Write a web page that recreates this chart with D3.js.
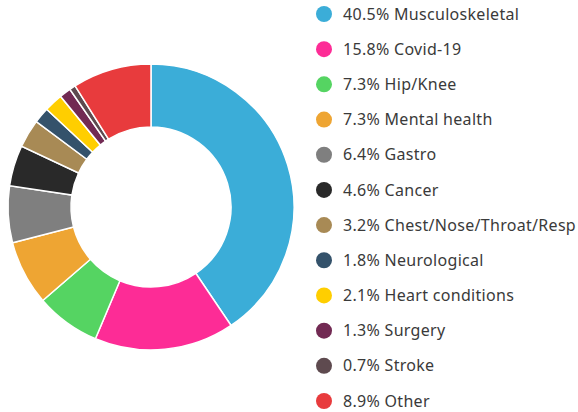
<!DOCTYPE html>
<html>
<head>
<meta charset="utf-8">
<script src="https://d3js.org/d3.v7.min.js"></script>
<style>
  body { margin: 0; background: #fff; }
  text { font-family: "Noto Sans", sans-serif; }
</style>
</head>
<body>
<div id="chart"></div>
<script>
const categories = ["Musculoskeletal", "Covid-19", "Hip/Knee", "Mental health", "Gastro", "Cancer",
  "Chest/Nose/Throat/Resp", "Neurological", "Heart conditions", "Surgery", "Stroke", "Other"];
const values = [40.5, 15.8, 7.3, 7.3, 6.4, 4.6, 3.2, 1.8, 2.1, 1.3, 0.7, 8.9];
const colors = ["#3badd8", "#fd2c96", "#55d462", "#eea533", "#7f7f7f", "#292929",
  "#a88a55", "#34526b", "#ffce00", "#722a53", "#5e4a4f", "#e83b3d"];

const width = 578, height = 412;

const svg = d3.select("#chart")
  .append("svg")
  .attr("width", width)
  .attr("height", height);

// donut
const pie = d3.pie().sort(null).value(d => d);
const arc = d3.arc().innerRadius(80).outerRadius(143);

const g = svg.append("g").attr("transform", "translate(151,207)");
g.selectAll("path")
  .data(pie(values))
  .join("path")
  .attr("d", arc)
  .attr("fill", (_, i) => colors[i])
  .attr("stroke", "#fff")
  .attr("stroke-width", 1.5);

// legend
const yScale = d3.scalePoint()
  .domain(categories)
  .range([14, 401]);

const legend = svg.append("g");
const item = legend.selectAll("g")
  .data(categories)
  .join("g")
  .attr("transform", d => `translate(324,${yScale(d)})`);

item.append("circle")
  .attr("r", 8)
  .attr("fill", (_, i) => colors[i]);

item.append("text")
  .attr("x", 19)
  .attr("dy", "0.35em")
  .attr("font-size", "16px")
  .attr("letter-spacing", "0.3px")
  .attr("fill", "#3a3a3a")
  .text((d, i) => `${values[i].toFixed(1)}% ${d}`);
</script>
</body>
</html>
